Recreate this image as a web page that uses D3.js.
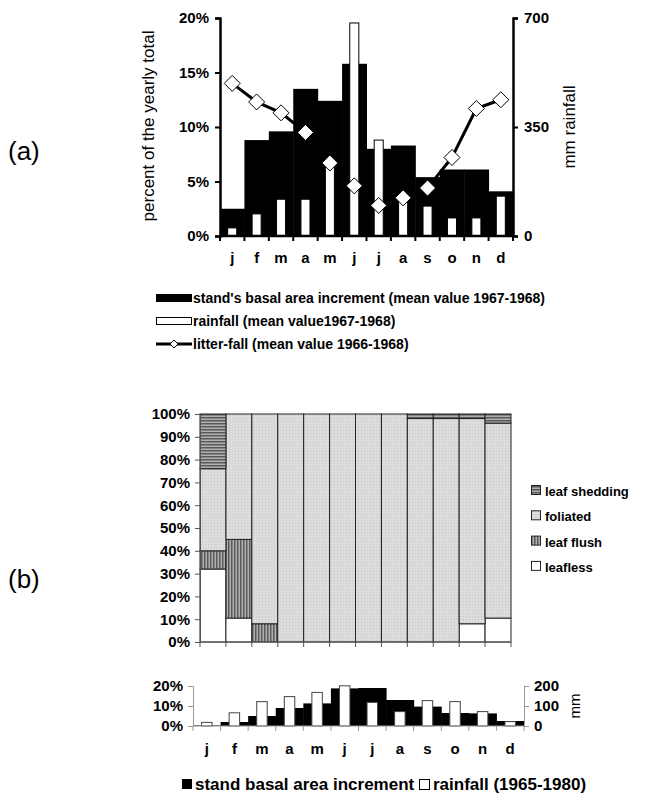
<!DOCTYPE html>
<html><head><meta charset="utf-8">
<script src="https://cdn.jsdelivr.net/npm/d3@7"></script>
<style>body{margin:0;background:#fff;} svg{display:block;font-family:"Liberation Sans",Arial,sans-serif;}</style>
</head><body><svg id="c" width="657" height="798"></svg>
<script>
const months = ["j","f","m","a","m","j","j","a","s","o","n","d"];
// panel (a)
const basalA = [2.5,8.8,9.6,13.5,12.4,15.8,8.0,8.3,5.4,6.1,6.1,4.1];
const rainA = [26,71,118,118,225,684,308,135,96,58,58,128];
const litterA = [14.0,12.3,11.3,9.5,6.7,4.6,2.8,3.5,4.4,7.2,11.7,12.5];
const ticksA = [0,5,10,15,20];
const ticksAR = [0,350,700];
// panel (b)
const leafless = [32,10.5,0,0,0,0,0,0,0,0,8,10.5];
const leafFlush = [8,34.5,8,0,0,0,0,0,0,0,0,0];
const foliated = [36,55,92,100,100,100,100,100,98,98,90,85.5];
const leafShedding = [24,0,0,0,0,0,0,0,2,2,2,4];
const ticksB = [0,10,20,30,40,50,60,70,80,90,100];
// panel (b) lower
const basalB = [0.3,2,5,9,11.3,18.8,19,13,9.7,6.5,6.3,2.5];
const rainB = [18,66,122,147,168,201,118,72,127,122,72,22];
const ticksC = [0,10,20];
const ticksCR = [0,100,200];

const svg = d3.select("#c");
const defs = svg.append("defs");
// patterns
const pFol = defs.append("pattern").attr("id","fol").attr("width",3).attr("height",3).attr("patternUnits","userSpaceOnUse");
pFol.append("rect").attr("width",3).attr("height",3).attr("fill","#dcdcdc");
pFol.append("rect").attr("x",1).attr("y",1).attr("width",1).attr("height",1).attr("fill","#c8c8c8");
const pFl = defs.append("pattern").attr("id","flush").attr("width",3).attr("height",3).attr("patternUnits","userSpaceOnUse");
pFl.append("rect").attr("width",3).attr("height",3).attr("fill","#b0b0b0");
pFl.append("rect").attr("width",1.5).attr("height",3).attr("fill","#5a5a5a");
const pSh = defs.append("pattern").attr("id","shed").attr("width",3).attr("height",3).attr("patternUnits","userSpaceOnUse");
pSh.append("rect").attr("width",3).attr("height",3).attr("fill","#b0b0b0");
pSh.append("rect").attr("width",3).attr("height",1.5).attr("fill","#5a5a5a");

const idx = d3.range(12);

// ===== Panel (a) =====
const xA = d3.scaleBand().domain(idx).range([220,513]).padding(0);
const yA = d3.scaleLinear().domain([0,20]).range([236,18]);
const yAR = d3.scaleLinear().domain([0,700]).range([236,18]);
const gA = svg.append("g");

// litter line (behind bars)
const line = d3.line().x(i=>xA(i)+xA.bandwidth()/2).y(i=>yA(litterA[i]));
gA.append("path").attr("d",line(idx)).attr("fill","none").attr("stroke","#000").attr("stroke-width",3);
// basal black bars
gA.selectAll(".ba").data(idx).join("rect")
  .attr("x",i=>xA(i)).attr("width",xA.bandwidth()+0.5)
  .attr("y",i=>yA(basalA[i])).attr("height",i=>yA(0)-yA(basalA[i])).attr("fill","#000");
// rain white bars
const wA = xA.bandwidth()*0.37;
gA.selectAll(".ra").data(idx).join("rect")
  .attr("x",i=>xA(i)+(xA.bandwidth()-wA)/2).attr("width",wA)
  .attr("y",i=>yAR(rainA[i])).attr("height",i=>yAR(0)-yAR(rainA[i]))
  .attr("fill","#fff").attr("stroke","#000").attr("stroke-width",1);
// diamonds
const dm = (cx,cy,r)=>`M${cx},${cy-r}L${cx+r},${cy}L${cx},${cy+r}L${cx-r},${cy}Z`;
gA.selectAll(".dm").data(idx).join("path")
  .attr("d",i=>dm(xA(i)+xA.bandwidth()/2, yA(litterA[i]), 8))
  .attr("fill","#fff").attr("stroke","#000").attr("stroke-width",1);

// axes
const axL = gA.append("g").attr("transform","translate(220,0)")
  .call(d3.axisLeft(yA).tickValues(ticksA).tickFormat(d=>d+"%").tickSize(5).tickPadding(6));
const axR = gA.append("g").attr("transform","translate(513,0)")
  .call(d3.axisRight(yAR).tickValues(ticksAR).tickSize(5).tickPadding(6));
const axB = gA.append("g").attr("transform","translate(0,236)")
  .call(d3.axisBottom(xA).tickFormat(i=>months[i]).tickSize(0).tickPadding(16));
[axL,axR,axB].forEach(a=>{
  a.selectAll("path.domain").attr("stroke","#000").attr("stroke-width",2.5);
  a.selectAll("line").attr("stroke","#000").attr("stroke-width",2);
  a.selectAll("text").attr("font-size",15).attr("font-weight","bold").attr("fill","#000")
   .attr("font-family","Liberation Sans, Arial, sans-serif");
});
axB.select("path.domain").attr("d","M220,0H513");
// x boundary ticks
gA.selectAll(".bt").data(d3.range(13)).join("line")
  .attr("x1",i=>220+i*xA.bandwidth()).attr("x2",i=>220+i*xA.bandwidth())
  .attr("y1",236).attr("y2",241).attr("stroke","#000").attr("stroke-width",2);

gA.append("text").attr("transform","translate(154,126) rotate(-90)").attr("text-anchor","middle")
  .attr("font-size",17).text("percent of the yearly total");
gA.append("text").attr("transform","translate(575,127) rotate(-90)").attr("text-anchor","middle")
  .attr("font-size",17).text("mm rainfall");
svg.append("text").attr("x",8).attr("y",160).attr("font-size",26).text("(a)");

// legend (a)
const lgA = svg.append("g").attr("font-size",14).attr("font-weight","bold");
lgA.append("rect").attr("x",156).attr("y",294).attr("width",36).attr("height",8).attr("fill","#000");
lgA.append("text").attr("x",193).attr("y",303).text("stand's basal area increment (mean value 1967-1968)");
lgA.append("rect").attr("x",156.5).attr("y",317.5).attr("width",35).attr("height",7).attr("fill","#fff").attr("stroke","#000");
lgA.append("text").attr("x",193).attr("y",326).text("rainfall (mean value1967-1968)");
lgA.append("line").attr("x1",156).attr("x2",192).attr("y1",344).attr("y2",344).attr("stroke","#000").attr("stroke-width",3);
lgA.append("path").attr("d",dm(174,344,4)).attr("fill","#fff").attr("stroke","#000");
lgA.append("text").attr("x",193).attr("y",349).text("litter-fall (mean value 1966-1968)");

// ===== Panel (b) stacked =====
const xB = d3.scaleBand().domain(idx).range([200,511]).padding(0);
const yB = d3.scaleLinear().domain([0,100]).range([642,414]);
const gB = svg.append("g");
const keys = ["leafless","leafFlush","foliated","leafShedding"];
const fills = {leafless:"#fff",leafFlush:"url(#flush)",foliated:"url(#fol)",leafShedding:"url(#shed)"};
const rows = idx.map(i=>({i,leafless:leafless[i],leafFlush:leafFlush[i],foliated:foliated[i],leafShedding:leafShedding[i]}));
const stack = d3.stack().keys(keys)(rows);
stack.forEach(s=>{
  gB.selectAll(null).data(s.filter(d=>d[1]-d[0]>0)).join("rect")
    .attr("x",d=>xB(d.data.i)).attr("width",xB.bandwidth())
    .attr("y",d=>yB(d[1])).attr("height",d=>yB(d[0])-yB(d[1]))
    .attr("fill",fills[s.key]).attr("stroke","#222").attr("stroke-width",1);
});
const axBL = gB.append("g").attr("transform","translate(200,0)")
  .call(d3.axisLeft(yB).tickValues(ticksB).tickFormat(d=>d+"%").tickSize(5).tickPadding(5));
axBL.selectAll("path.domain,line").attr("stroke","#555");
axBL.selectAll("text").attr("font-size",15).attr("font-weight","bold").attr("fill","#000").attr("font-family","Liberation Sans, Arial, sans-serif");
gB.append("line").attr("x1",200).attr("x2",511).attr("y1",642).attr("y2",642).attr("stroke","#555");
gB.selectAll(".bt").data(d3.range(13)).join("line")
  .attr("x1",i=>200+i*xB.bandwidth()).attr("x2",i=>200+i*xB.bandwidth())
  .attr("y1",642).attr("y2",647).attr("stroke","#555");
svg.append("text").attr("x",8).attr("y",588).attr("font-size",26).text("(b)");

// legend (b)
const lgB = svg.append("g").attr("font-size",13).attr("font-weight","bold");
const lgItems = [["leafShedding","leaf shedding"],["foliated","foliated"],["leafFlush","leaf flush"],["leafless","leafless"]];
lgItems.forEach((d,k)=>{
  const y = 491 + k*25.3;
  lgB.append("rect").attr("x",531.5).attr("y",y-5.5).attr("width",9).attr("height",9).attr("fill",fills[d[0]]).attr("stroke","#222");
  lgB.append("text").attr("x",545).attr("y",y+5).text(d[1]);
});

// ===== Panel (b) lower =====
const xC = d3.scaleBand().domain(idx).range([193,524]).padding(0);
const yC = d3.scaleLinear().domain([0,20]).range([726,686]);
const yCR = d3.scaleLinear().domain([0,200]).range([726,686]);
const gC = svg.append("g");
gC.selectAll(".bc").data(idx).join("rect")
  .attr("x",i=>xC(i)).attr("width",xC.bandwidth()+0.5)
  .attr("y",i=>yC(basalB[i])).attr("height",i=>yC(0)-yC(basalB[i])).attr("fill","#000");
const wC = xC.bandwidth()*0.38;
gC.selectAll(".rc").data(idx).join("rect")
  .attr("x",i=>xC(i)+(xC.bandwidth()-wC)/2).attr("width",wC)
  .attr("y",i=>yCR(rainB[i])).attr("height",i=>yCR(0)-yCR(rainB[i]))
  .attr("fill","#fff").attr("stroke","#444").attr("stroke-width",1);
const axCL = gC.append("g").attr("transform","translate(193,0)")
  .call(d3.axisLeft(yC).tickValues(ticksC).tickFormat(d=>d+"%").tickSize(5).tickPadding(5));
const axCR = gC.append("g").attr("transform","translate(524,0)")
  .call(d3.axisRight(yCR).tickValues(ticksCR).tickSize(5).tickPadding(5));
[axCL,axCR].forEach(a=>{
  a.selectAll("path.domain,line").attr("stroke","#999");
  a.selectAll("text").attr("font-size",15).attr("font-weight","bold").attr("fill","#000").attr("font-family","Liberation Sans, Arial, sans-serif");
});
gC.append("line").attr("x1",193).attr("x2",524).attr("y1",726).attr("y2",726).attr("stroke","#999");
gC.selectAll(".bt").data(d3.range(13)).join("line")
  .attr("x1",i=>193+i*xC.bandwidth()).attr("x2",i=>193+i*xC.bandwidth())
  .attr("y1",726).attr("y2",731).attr("stroke","#999");
gC.selectAll(".ml").data(idx).join("text")
  .attr("x",i=>xC(i)+xC.bandwidth()/2).attr("y",754).attr("text-anchor","middle")
  .attr("font-size",15).attr("font-weight","bold").text(i=>months[i]);
gC.append("text").attr("transform","translate(580,706) rotate(-90)").attr("text-anchor","middle")
  .attr("font-size",15).text("mm");

// legend lower
const lgC = svg.append("g").attr("font-size",17).attr("font-weight","bold");
lgC.append("rect").attr("x",182).attr("y",779).attr("width",10).attr("height",10).attr("fill","#000");
lgC.append("text").attr("x",195).attr("y",790).text("stand basal area increment");
lgC.append("rect").attr("x",419.5).attr("y",779.5).attr("width",10).attr("height",10).attr("fill","#fff").attr("stroke","#000");
lgC.append("text").attr("x",433).attr("y",790).text("rainfall (1965-1980)");
</script></body></html>
